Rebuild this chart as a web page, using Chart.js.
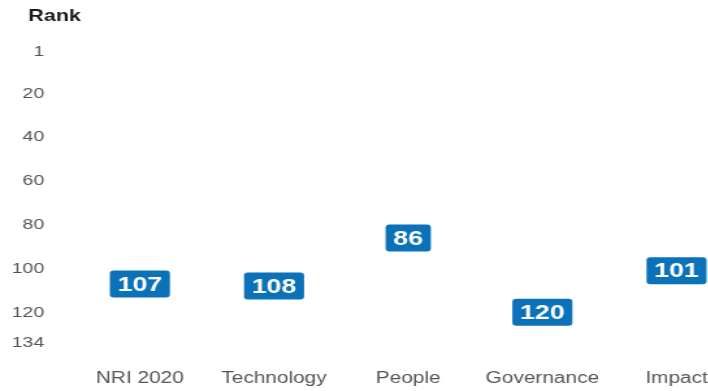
<!DOCTYPE html>
<html>
<head>
<meta charset="utf-8">
<script src="https://cdn.jsdelivr.net/npm/chart.js@4"></script>
<style>
  html, body { margin: 0; padding: 0; background: #fff; }
  #frame { width: 708px; height: 391px; overflow: hidden; position: relative; }
  /* the source picture is stretched sideways, so the canvas is too */
  #wrap { width: 572px; height: 391px; transform: scaleX(1.3); transform-origin: 0 0; }
</style>
</head>
<body>
<div id="frame"><div id="wrap"><canvas id="chart" width="572" height="391"></canvas></div></div>
<script>
// Rank by pillar
const categories = ['NRI 2020', 'Technology', 'People', 'Governance', 'Impact'];
const ranks = [107, 108, 86, 120, 101];
const yTicks = [1, 20, 40, 60, 80, 100, 120, 134];

const FONT = '"Liberation Sans", Arial, sans-serif';
const BLUE = '#0b71b9';

// blue label boxes sitting on each point
const rankBoxes = {
  id: 'rankBoxes',
  afterDatasetsDraw(chart) {
    const ctx = chart.ctx;
    const meta = chart.getDatasetMeta(0);
    ctx.save();
    ctx.font = 'bold 20.5px ' + FONT;
    ctx.textAlign = 'center';
    ctx.textBaseline = 'middle';
    meta.data.forEach((pt, i) => {
      const txt = String(ranks[i]);
      const w = ctx.measureText(txt).width + 12, h = 27;
      ctx.fillStyle = BLUE;
      ctx.beginPath();
      ctx.roundRect(pt.x - w / 2, pt.y - h / 2, w, h, 3);
      ctx.fill();
      ctx.fillStyle = '#fff';
      ctx.fillText(txt, pt.x, pt.y + 1);
    });
    ctx.restore();
  }
};

// "Rank" heading above the axis
const axisHeading = {
  id: 'axisHeading',
  afterDraw(chart) {
    const ctx = chart.ctx;
    ctx.save();
    ctx.font = 'bold 16.5px ' + FONT;
    ctx.fillStyle = '#1a1a1a';
    ctx.textAlign = 'center';
    ctx.textBaseline = 'middle';
    ctx.fillText('Rank', 42, 16.5);
    ctx.restore();
  }
};

new Chart(document.getElementById('chart'), {
  type: 'line',
  data: {
    labels: categories,
    datasets: [{ data: ranks, showLine: false, pointRadius: 0, borderColor: BLUE }]
  },
  options: {
    responsive: false,
    animation: false,
    devicePixelRatio: 1,
    layout: { padding: { top: 52, right: 0, bottom: 0, left: 0 } },
    plugins: { legend: { display: false }, tooltip: { enabled: false } },
    scales: {
      x: {
        offset: true,
        grid: { display: false, drawTicks: false },
        border: { display: false },
        ticks: { color: '#555', font: { family: FONT, size: 16 }, padding: 26, maxRotation: 0, autoSkip: false },
        afterFit: s => { s.height = 48; }
      },
      y: {
        type: 'linear',
        reverse: true,
        min: 1,
        max: 134,
        afterBuildTicks: s => { s.ticks = yTicks.map(v => ({ value: v })); },
        grid: { display: false, drawTicks: false },
        border: { display: false },
        ticks: { color: '#555', font: { family: FONT, size: 15 }, padding: 22 },
        afterFit: s => { s.width = 56; }
      }
    }
  },
  plugins: [rankBoxes, axisHeading]
});
</script>
</body>
</html>
